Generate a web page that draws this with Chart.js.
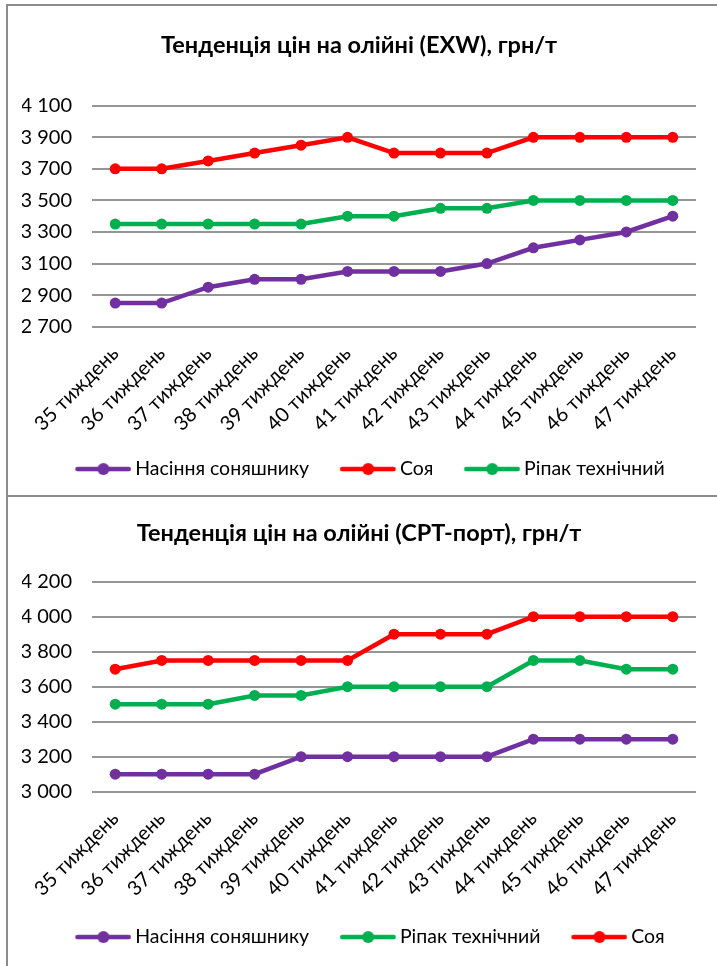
<!DOCTYPE html>
<html>
<head>
<meta charset="utf-8">
<script src="https://cdn.jsdelivr.net/npm/chart.js@4/dist/chart.umd.min.js"></script>
<style>
  html, body { margin: 0; padding: 0; background: #fff; width: 717px; height: 966px; overflow: hidden; }
  .box { position: absolute; left: 6px; width: 800px; border: 2px solid #8c8c8c; box-sizing: border-box; }
  .cv { position: absolute; left: 8px; }
</style>
</head>
<body>
<div class="box" style="top:4px;height:493px;"></div>
<div class="box" style="top:495px;height:600px;"></div>
<canvas id="c1" class="cv" style="top:6px" width="709" height="489"></canvas>
<canvas id="c2" class="cv" style="top:499px" width="709" height="467"></canvas>
<script>
// ---- data ----
const weeks = ['35 тиждень','36 тиждень','37 тиждень','38 тиждень','39 тиждень','40 тиждень','41 тиждень','42 тиждень','43 тиждень','44 тиждень','45 тиждень','46 тиждень','47 тиждень'];

const titleTop = 'Тенденція цін на олійні (EXW), грн/т';
const sunflowerTop = [2850, 2850, 2950, 3000, 3000, 3050, 3050, 3050, 3100, 3200, 3250, 3300, 3400];
const soyTop       = [3700, 3700, 3750, 3800, 3850, 3900, 3800, 3800, 3800, 3900, 3900, 3900, 3900];
const rapeTop      = [3350, 3350, 3350, 3350, 3350, 3400, 3400, 3450, 3450, 3500, 3500, 3500, 3500];
const yValsTop   = [2700, 2900, 3100, 3300, 3500, 3700, 3900, 4100];
const yLabelsTop = ['2 700', '2 900', '3 100', '3 300', '3 500', '3 700', '3 900', '4 100'];

const titleBot = 'Тенденція цін на олійні (СРТ-порт), грн/т';
const sunflowerBot = [3100, 3100, 3100, 3100, 3200, 3200, 3200, 3200, 3200, 3300, 3300, 3300, 3300];
const rapeBot      = [3500, 3500, 3500, 3550, 3550, 3600, 3600, 3600, 3600, 3750, 3750, 3700, 3700];
const soyBot       = [3700, 3750, 3750, 3750, 3750, 3750, 3900, 3900, 3900, 4000, 4000, 4000, 4000];
const yValsBot   = [3000, 3200, 3400, 3600, 3800, 4000, 4200];
const yLabelsBot = ['3 000', '3 200', '3 400', '3 600', '3 800', '4 000', '4 200'];

const nameSun = 'Насіння соняшнику';
const nameSoy = 'Соя';
const nameRape = 'Ріпак технічний';

// ---- styles ----
const PURPLE = '#7030A0', RED = '#FF0000', GREEN = '#00B050';
const FONT = 'Lato, "Open Sans", sans-serif';
const BOXW = 72;
const PADL = 14;

function legendImg(color) {
  const c = document.createElement('canvas');
  c.width = BOXW + 12; c.height = 16;
  const g = c.getContext('2d');
  g.strokeStyle = color; g.lineWidth = 4.5; g.lineCap = 'round';
  g.beginPath(); g.moveTo(c.width - 54, 8); g.lineTo(c.width - 2.5, 8); g.stroke();
  g.fillStyle = color; g.beginPath(); g.arc(c.width - 28, 8, 6, 0, Math.PI * 2); g.fill();
  return c;
}

function ds(label, data, color) {
  return {
    label, data, borderColor: color, backgroundColor: color,
    pointBackgroundColor: color, pointBorderWidth: 0, pointRadius: 5.5, pointHoverRadius: 5.5,
    borderWidth: 4.5, tension: 0, fill: false, _img: legendImg(color)
  };
}

function makeChart(id, title, datasets, yVals, yLabels, L) {
  new Chart(document.getElementById(id), {
    type: 'line',
    data: { labels: weeks, datasets },
    options: {
      responsive: false, animation: false, events: [],
      layout: { padding: { top: 0, left: PADL, right: 21, bottom: L.bottom } },
      plugins: {
        title: {
          display: true, text: title, color: '#000',
          font: { family: FONT, size: 23.5, weight: 'bold', lineHeight: 1.2 },
          padding: { top: L.tTop, bottom: L.tBot }
        },
        legend: {
          position: 'bottom',
          labels: {
            color: '#000', font: { family: FONT, size: 19.5 }, usePointStyle: true,
            pointStyleWidth: BOXW, padding: 9,
            generateLabels: (chart) => {
              const items = Chart.defaults.plugins.legend.labels.generateLabels(chart);
              items.forEach(it => { it.pointStyle = chart.data.datasets[it.datasetIndex]._img; });
              return items;
            }
          }
        },
        tooltip: { enabled: false }
      },
      scales: {
        x: {
          offset: true,
          grid: { display: false, drawTicks: false },
          border: { display: false },
          ticks: { color: '#000', font: { family: FONT, size: 20 }, minRotation: 45, maxRotation: 45, autoSkip: false, padding: 15 },
          afterFit: s => { s.height = L.xH; }
        },
        y: {
          min: yVals[0], max: yVals[yVals.length - 1],
          afterBuildTicks: s => { s.ticks = yVals.map(v => ({ value: v })); },
          grid: { color: '#959595', lineWidth: 2, drawTicks: false },
          border: { display: false },
          ticks: { color: '#000', font: { family: FONT, size: 20 }, padding: 20,
                   callback: (v, i) => yLabels[i] },
          afterFit: s => { s.width = 84 - PADL; }
        }
      }
    }
  });
}

// legend height = 19.5 + 9 + 10 = 38.5, item centre = top + 9 + 9.75
makeChart('c1', titleTop,
  [ds(nameSun, sunflowerTop, PURPLE), ds(nameSoy, soyTop, RED), ds(nameRape, rapeTop, GREEN)],
  yValsTop, yLabelsTop, { tTop: 24.9, tBot: 46.6, xH: 123.6, bottom: 6.2 });

makeChart('c2', titleBot,
  [ds(nameSun, sunflowerBot, PURPLE), ds(nameRape, rapeBot, GREEN), ds(nameSoy, soyBot, RED)],
  yValsBot, yLabelsBot, { tTop: 19.9, tBot: 34.6, xH: 126.6, bottom: 9.2 });
</script>
</body>
</html>
